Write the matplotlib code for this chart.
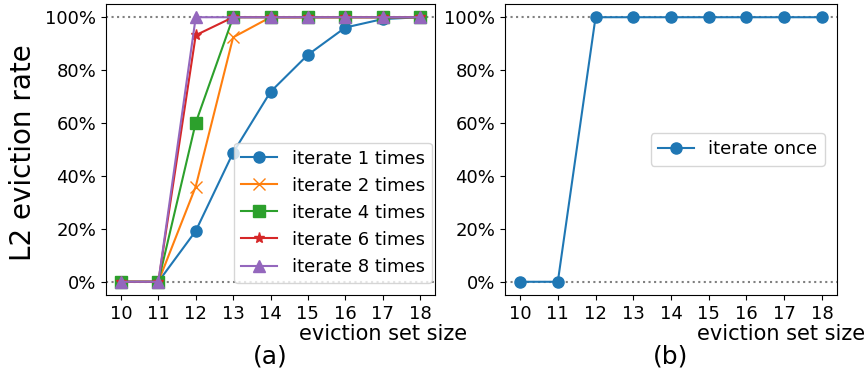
import matplotlib
matplotlib.use("Agg")
import matplotlib.pyplot as plt
from matplotlib.ticker import PercentFormatter

sizes = [10, 11, 12, 13, 14, 15, 16, 17, 18]
iter1 = [0, 0, 19.2, 48.8, 71.8, 85.8, 96.1, 99.3, 100]
iter2 = [0, 0, 36, 92.4, 100, 100, 100, 100, 100]
iter4 = [0, 0, 60.1, 100, 100, 100, 100, 100, 100]
iter6 = [0, 0, 93.2, 100, 100, 100, 100, 100, 100]
iter8 = [0, 0, 100, 100, 100, 100, 100, 100, 100]
once = [0, 0, 100, 100, 100, 100, 100, 100, 100]

series_a = [
    (iter1, "o", "iterate 1 times", "#1f77b4"),
    (iter2, "x", "iterate 2 times", "#ff7f0e"),
    (iter4, "s", "iterate 4 times", "#2ca02c"),
    (iter6, "*", "iterate 6 times", "#d62728"),
    (iter8, "^", "iterate 8 times", "#9467bd"),
]

fig = plt.figure(figsize=(8.68, 3.72), dpi=100)
ax1 = fig.add_axes([106/868, 1-295/372, 329/868, 291/372])
ax2 = fig.add_axes([505/868, 1-295/372, 332/868, 291/372])

fs = 13
for vals, m, lab, c in series_a:
    ax1.plot(sizes, vals, marker=m, label=lab, color=c, markersize=8, linewidth=1.5)
ax2.plot(sizes, once, marker="o", label="iterate once", color="#1f77b4", markersize=8, linewidth=1.5)

for ax, tag, lx in ((ax1, "(a)", 0.842), (ax2, "(b)", 0.831)):
    ax.axhline(0, color="grey", linestyle=":", linewidth=1.5, zorder=0)
    ax.axhline(100, color="grey", linestyle=":", linewidth=1.5, zorder=0)
    ax.set_xticks(sizes)
    ax.set_yticks([0, 20, 40, 60, 80, 100])
    ax.yaxis.set_major_formatter(PercentFormatter(decimals=0))
    ax.tick_params(labelsize=fs)
    ax.set_xlabel("eviction set size", fontsize=15)
    ax.xaxis.set_label_coords(lx, -0.1)
    ax.text(0.5, -0.213, tag, transform=ax.transAxes, ha="center", va="center", fontsize=18)

ax1.set_ylabel("L2 eviction rate", fontsize=20)
ax1.yaxis.set_label_coords(-0.21, 0.49)

ax1.legend(loc="lower right", fontsize=fs, bbox_to_anchor=(0.991, 0.041), borderaxespad=0)
ax2.legend(loc="center right", fontsize=fs, bbox_to_anchor=(0.99, 0.5))

fig.savefig("out.png", dpi=100)
